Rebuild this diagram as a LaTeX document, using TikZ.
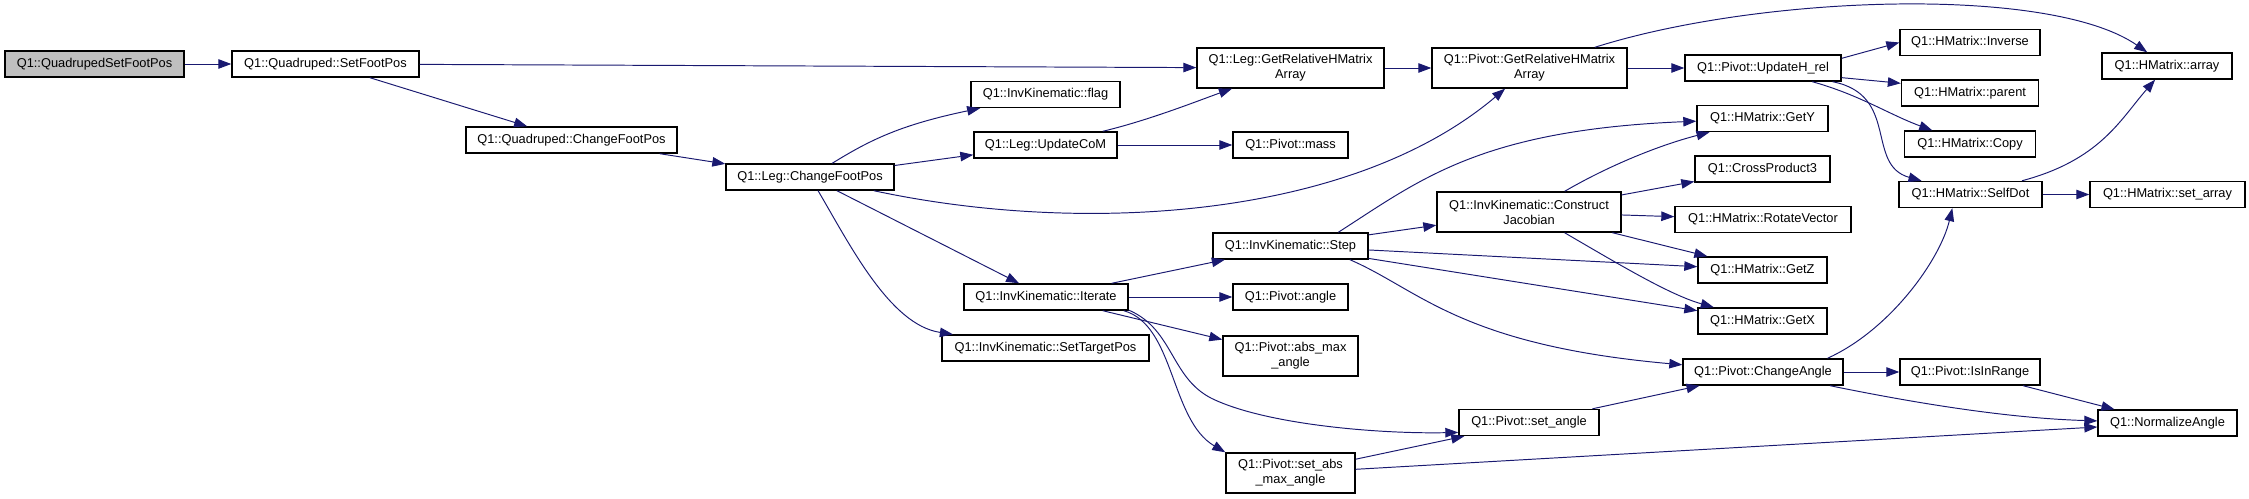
\documentclass[tikz,border=0pt]{standalone}
\usepackage{fontspec}
\setmainfont{Liberation Sans}
\usepackage{tikz}
\usetikzlibrary{arrows.meta}
\definecolor{edgeblue}{HTML}{191970}
\definecolor{rootgray}{HTML}{BFBFBF}

\begin{document}
\begin{tikzpicture}[
  x=0.02cm, y=-0.02cm,
  fn/.style={draw=black, line width=0.8pt, fill=white, inner sep=0pt, minimum height=0.52cm, align=center, font=\fontsize{7.3}{8.5}\selectfont},
  fn2/.style={fn, minimum height=0.80cm},
  arr/.style={-{Triangle[length=0.26cm, width=0.19cm]}, line width=0.55pt, color=edgeblue}
]
  \useasboundingbox (0,0) rectangle (2249,499);

  % Root and Quadruped
  \node[fn, fill=rootgray, minimum width=3.58cm] (root) at (94.5,64) {Q1::QuadrupedSetFootPos};
  \node[fn, minimum width=3.74cm] (qset) at (325.5,64) {Q1::Quadruped::SetFootPos};
  \node[fn, minimum width=4.22cm] (qchange) at (571.5,140) {Q1::Quadruped::ChangeFootPos};
  \node[fn, minimum width=3.36cm] (legchange) at (810,177) {Q1::Leg::ChangeFootPos};

  % Leg and InvKinematic
  \node[fn2, minimum width=3.74cm] (legrel) at (1290.5,68) {Q1::Leg::GetRelativeHMatrix\\Array};
  \node[fn, minimum width=2.98cm] (flag) at (1045.5,94.5) {Q1::InvKinematic::flag};
  \node[fn, minimum width=2.86cm] (com) at (1045.5,145) {Q1::Leg::UpdateCoM};
  \node[fn, minimum width=2.30cm] (mass) at (1290.5,145) {Q1::Pivot::mass};
  \node[fn, minimum width=3.28cm] (iterate) at (1046,297) {Q1::InvKinematic::Iterate};
  \node[fn, minimum width=4.14cm] (target) at (1045.5,348) {Q1::InvKinematic::SetTargetPos};
  \node[fn, minimum width=3.10cm] (step) at (1290.5,246) {Q1::InvKinematic::Step};
  \node[fn, minimum width=2.30cm] (angle) at (1290.5,297) {Q1::Pivot::angle};
  \node[fn2, minimum width=2.70cm] (absmax) at (1290.5,356) {Q1::Pivot::abs\_max\\\_angle};
  \node[fn2, minimum width=2.58cm] (setabsmax) at (1290.5,473) {Q1::Pivot::set\_abs\\\_max\_angle};

  % Pivot
  \node[fn2, minimum width=3.90cm] (pivrel) at (1529.5,68) {Q1::Pivot::GetRelativeHMatrix\\Array};
  \node[fn2, minimum width=3.68cm] (jacobian) at (1529,212) {Q1::InvKinematic::Construct\\Jacobian};
  \node[fn, minimum width=2.80cm] (setangle) at (1529,422.5) {Q1::Pivot::set\_angle};
  \node[fn, minimum width=3.12cm] (updateh) at (1763,68) {Q1::Pivot::UpdateH\_rel};
  \node[fn, minimum width=2.62cm] (gety) at (1762.5,118.5) {Q1::HMatrix::GetY};
  \node[fn, minimum width=2.70cm] (cross) at (1762.5,169) {Q1::CrossProduct3};
  \node[fn, minimum width=3.52cm] (rotate) at (1763,219.5) {Q1::HMatrix::RotateVector};
  \node[fn, minimum width=2.58cm] (getz) at (1762.5,270) {Q1::HMatrix::GetZ};
  \node[fn, minimum width=2.58cm] (getx) at (1762.5,321) {Q1::HMatrix::GetX};
  \node[fn, minimum width=3.20cm] (changeangle) at (1763,372) {Q1::Pivot::ChangeAngle};

  % HMatrix
  \node[fn, minimum width=2.80cm] (inverse) at (1970,42.5) {Q1::HMatrix::Inverse};
  \node[fn, minimum width=2.74cm] (parent) at (1970,93) {Q1::HMatrix::parent};
  \node[fn, minimum width=2.62cm] (copy) at (1970,144) {Q1::HMatrix::Copy};
  \node[fn, minimum width=2.86cm] (selfdot) at (1970.5,194.5) {Q1::HMatrix::SelfDot};
  \node[fn, minimum width=2.80cm] (inrange) at (1970,372) {Q1::Pivot::IsInRange};
  \node[fn, minimum width=2.60cm] (array) at (2167,66) {Q1::HMatrix::array};
  \node[fn, minimum width=3.10cm] (setarray) at (2167.5,194.5) {Q1::HMatrix::set\_array};
  \node[fn, minimum width=2.78cm] (normalize) at (2167.5,423) {Q1::NormalizeAngle};

  % Arrows
  \draw[arr] (root) -- (qset);
  \draw[arr] (qset) -- (legrel);
  \draw[arr] (qset) -- (qchange);
  \draw[arr] (qchange) -- (legchange);
  \draw[arr] (legchange) .. controls (870,140) and (900,125) .. (flag);
  \draw[arr] (legchange) -- (com);
  \draw[arr] (legchange) .. controls (1080,235) and (1350,220) .. (pivrel);
  \draw[arr] (legchange) -- (iterate);
  \draw[arr] (legchange) .. controls (850,245) and (890,325) .. (target);
  \draw[arr] (com) .. controls (1150,120) and (1200,100) .. (legrel);
  \draw[arr] (com) -- (mass);
  \draw[arr] (legrel) -- (pivrel);

  \draw[arr] (pivrel) -- (updateh);
  \draw[arr] (pivrel) .. controls (1760,-5) and (2050,-15) .. (array);
  \draw[arr] (updateh.7) -- (inverse.west);
  \draw[arr] (updateh.-7) -- (parent.172);
  \draw[arr] (updateh) .. controls (1860,95) and (1890,115) .. (copy);
  \draw[arr] (updateh) .. controls (1900,95) and (1865,165) .. (selfdot);
  \draw[arr] (selfdot) .. controls (2100,160) and (2120,120) .. (array);
  \draw[arr] (selfdot) -- (setarray);

  \draw[arr] (iterate) -- (step);
  \draw[arr] (iterate) -- (angle);
  \draw[arr] (iterate) -- (absmax);
  \draw[arr] (iterate.-9) .. controls (1175,330) and (1170,380) .. (1215,400) .. controls (1270,425) and (1380,434) .. (setangle.188);
  \draw[arr] (iterate.-10) .. controls (1175,325) and (1170,420) .. (setabsmax.north west);

  \draw[arr] (step) -- (jacobian);
  \draw[arr] (step.16) .. controls (1420,180) and (1480,130) .. (gety);
  \draw[arr] (step) -- (getz);
  \draw[arr] (step) -- (getx);
  \draw[arr] (step.-13) .. controls (1420,290) and (1460,345) .. (changeangle);

  \draw[arr] (jacobian) .. controls (1610,165) and (1660,145) .. (gety);
  \draw[arr] (jacobian) -- (cross);
  \draw[arr] (jacobian) -- (rotate);
  \draw[arr] (jacobian) -- (getz);
  \draw[arr] (jacobian) .. controls (1620,265) and (1670,295) .. (getx);

  \draw[arr] (setabsmax) -- (setangle);
  \draw[arr] (setabsmax) -- (normalize);
  \draw[arr] (setangle) -- (changeangle);
  \draw[arr] (changeangle.12) .. controls (1890,330) and (1940,260) .. (selfdot.217);
  \draw[arr] (changeangle) -- (inrange);
  \draw[arr] (changeangle) .. controls (1900,400) and (2000,418) .. (normalize);
  \draw[arr] (inrange) -- (normalize);
\end{tikzpicture}
\end{document}
